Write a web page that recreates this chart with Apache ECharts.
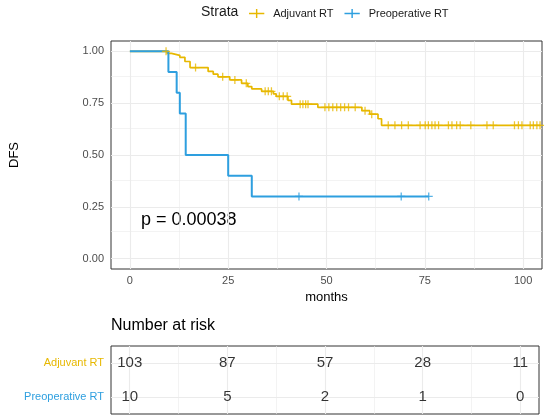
<!DOCTYPE html>
<html>
<head>
<meta charset="utf-8">
<script src="https://cdn.jsdelivr.net/npm/echarts@6/dist/echarts.min.js"></script>
<style>
html, body { margin: 0; padding: 0; background: #fff; }
#chart { width: 550px; height: 417px; }
</style>
</head>
<body>
<div id="chart"></div>
<script>
var groups = ['Adjuvant RT', 'Preoperative RT'];
var colors = ['#E7B800', '#2E9FDF'];

// KM steps: [months, survival]
var adjSteps = [[0, 1], [9.5, 0.990], [10.6, 0.981], [12.7, 0.971], [14.0, 0.951], [15.3, 0.922],
    [19.9, 0.903], [21.2, 0.890], [22.4, 0.877], [25.4, 0.862], [28.4, 0.846], [30.0, 0.830],
    [31.0, 0.819], [33.5, 0.807], [36.5, 0.795], [37.2, 0.783], [40.2, 0.764], [41.1, 0.745],
    [47.8, 0.730], [59.0, 0.714], [61.0, 0.697], [63.1, 0.675], [64.0, 0.643], [104.4, 0.643]];
var adjCensor = [9.2, 16.7, 23.6, 26.7, 29.6, 34.4, 35.2, 36.0, 38.0, 39.0, 40.0, 43.3, 44.0, 44.7,
    45.3, 49.6, 50.6, 51.6, 52.6, 53.6, 54.6, 55.6, 57.3, 59.8, 61.5, 65.7, 67.4, 69.1, 70.8, 73.8,
    75.1, 75.9, 76.8, 77.6, 78.5, 81.0, 81.9, 83.1, 84.0, 86.7, 90.8, 92.4, 97.8, 98.8, 99.7, 101.8,
    102.6, 103.5, 104.3];
var preSteps = [[0, 1], [9.8, 0.9], [11.9, 0.8], [12.7, 0.7], [14.2, 0.5], [25, 0.4], [31, 0.3], [76, 0.3]];
var preCensor = [43, 69, 76];

var riskTimes = [0, 25, 50, 75, 100];
var adjRisk = [103, 87, 57, 28, 11];
var preRisk = [10, 5, 2, 1, 0];

var xTicks = [0, 25, 50, 75, 100];
var xMinor = [12.5, 37.5, 62.5, 87.5];
var yTicks = [0, 0.25, 0.5, 0.75, 1];
var yMinor = [0.125, 0.375, 0.625, 0.875];

var FONT = "'Liberation Sans', Arial, sans-serif";
var cross = 'path://M4.2,0H5.8V4.2H10V5.8H5.8V10H4.2V5.8H0V4.2H4.2Z';
var legendCross = 'path://M0,4.2H17V5.8H0Z M7.7,0H9.3V10H7.7Z';

function survAt(steps, t) {
    var s = steps[0][1];
    for (var i = 0; i < steps.length; i++) {
        if (steps[i][0] <= t) s = steps[i][1];
    }
    return s;
}

function gridSeries(xi, lines, width) {
    return {
        type: 'line', xAxisIndex: xi, yAxisIndex: xi, data: [], z: 1, silent: true,
        markLine: {
            silent: true, animation: false, z: 1,
            symbol: ['none', 'none'],
            label: { show: false },
            lineStyle: { color: '#EBEBEB', width: width, type: 'solid' },
            data: lines
        }
    };
}

var mainMajor = xTicks.map(function (v) { return { xAxis: v }; })
    .concat(yTicks.map(function (v) { return { yAxis: v }; }));
var mainMinor = xMinor.map(function (v) { return { xAxis: v }; })
    .concat(yMinor.map(function (v) { return { yAxis: v }; }));
var riskMajor = xTicks.map(function (v) { return { xAxis: v }; })
    .concat(groups.map(function (g) { return { yAxis: g }; }));
var riskMinor = xMinor.map(function (v) { return { xAxis: v }; });

var riskData = [];
riskTimes.forEach(function (t, i) {
    riskData.push([t, groups[0], adjRisk[i]]);
    riskData.push([t, groups[1], preRisk[i]]);
});

var chart = echarts.init(document.getElementById('chart'));
chart.setOption({
    animation: false,
    textStyle: { fontFamily: FONT },
    legend: {
        left: 244, top: 3,
        itemWidth: 17, itemHeight: 9, itemGap: 11,
        textStyle: { fontSize: 11, color: '#1a1a1a', fontFamily: FONT, padding: [0, 0, 0, 3] },
        data: groups.map(function (g) { return { name: g, icon: legendCross }; })
    },
    graphic: [
        { type: 'text', left: 201, top: 5, style: { text: 'Strata', fill: '#1a1a1a', font: '14px ' + FONT } },
        { type: 'text', left: 141, top: 211, style: { text: 'p = 0.00038', fill: '#000', font: '18px ' + FONT } },
        { type: 'text', left: 111, top: 318, style: { text: 'Number at risk', fill: '#000', font: '16px ' + FONT } }
    ],
    grid: [
        { left: 111, right: 8, top: 41, bottom: 148, show: true, borderColor: '#333333', borderWidth: 1, backgroundColor: '#fff' },
        { left: 111, right: 11, top: 346, bottom: 3, show: true, borderColor: '#333333', borderWidth: 1, backgroundColor: '#fff' }
    ],
    xAxis: [
        {
            type: 'value', gridIndex: 0, min: -4.8, max: 104.8,
            name: 'months', nameLocation: 'middle', nameGap: 22,
            nameTextStyle: { fontSize: 13, color: '#000', fontFamily: FONT },
            axisLine: { show: false },
            axisTick: { show: true, customValues: xTicks, length: 4, lineStyle: { color: '#333' } },
            axisLabel: { customValues: xTicks, fontSize: 11, color: '#4D4D4D', margin: 6 },
            splitLine: { show: false }
        },
        {
            type: 'value', gridIndex: 1, min: -4.8, max: 104.8,
            axisLine: { show: false }, axisTick: { show: false },
            axisLabel: { show: false }, splitLine: { show: false }
        }
    ],
    yAxis: [
        {
            type: 'value', gridIndex: 0, min: -0.05, max: 1.05,
            name: 'DFS', nameLocation: 'middle', nameGap: 90, nameRotate: 90,
            nameTextStyle: { fontSize: 13, color: '#000', fontFamily: FONT },
            axisLine: { show: false },
            axisTick: { show: true, customValues: yTicks, length: 4, lineStyle: { color: '#333' } },
            axisLabel: {
                customValues: yTicks, fontSize: 11, color: '#4D4D4D', margin: 7,
                formatter: function (v) { return v.toFixed(2); }
            },
            splitLine: { show: false }
        },
        {
            type: 'category', gridIndex: 1, inverse: true, data: groups,
            axisLine: { show: false }, axisTick: { show: false },
            axisLabel: {
                fontSize: 11, margin: 7,
                color: function (v) { return colors[groups.indexOf(v)]; }
            },
            splitLine: { show: false }
        }
    ],
    series: [
        gridSeries(0, mainMinor, 0.6),
        gridSeries(0, mainMajor, 1.1),
        gridSeries(1, riskMinor, 0.6),
        gridSeries(1, riskMajor, 1.1),
        {
            name: groups[0], type: 'line', step: 'end', z: 3,
            showSymbol: false, symbol: 'none',
            color: colors[0], lineStyle: { color: colors[0], width: 1.7 },
            data: adjSteps
        },
        {
            name: groups[1], type: 'line', step: 'end', z: 4,
            showSymbol: false, symbol: 'none',
            color: colors[1], lineStyle: { color: colors[1], width: 2 },
            data: preSteps
        },
        {
            name: 'adj-censor', type: 'scatter', z: 5, symbol: cross, symbolSize: 8,
            itemStyle: { color: colors[0] },
            data: adjCensor.map(function (t) { return [t, survAt(adjSteps, t)]; })
        },
        {
            name: 'pre-censor', type: 'scatter', z: 6, symbol: cross, symbolSize: 8,
            itemStyle: { color: colors[1] },
            data: preCensor.map(function (t) { return [t, survAt(preSteps, t)]; })
        },
        {
            name: 'risk', type: 'scatter', xAxisIndex: 1, yAxisIndex: 1, z: 10, zlevel: 1,
            symbolSize: 1, itemStyle: { color: 'rgba(0,0,0,0)' },
            label: {
                show: true, position: 'inside', color: '#000', fontSize: 15, fontFamily: FONT,
                formatter: function (p) { return String(p.value[2]); }
            },
            data: riskData
        }
    ]
});
</script>
</body>
</html>
